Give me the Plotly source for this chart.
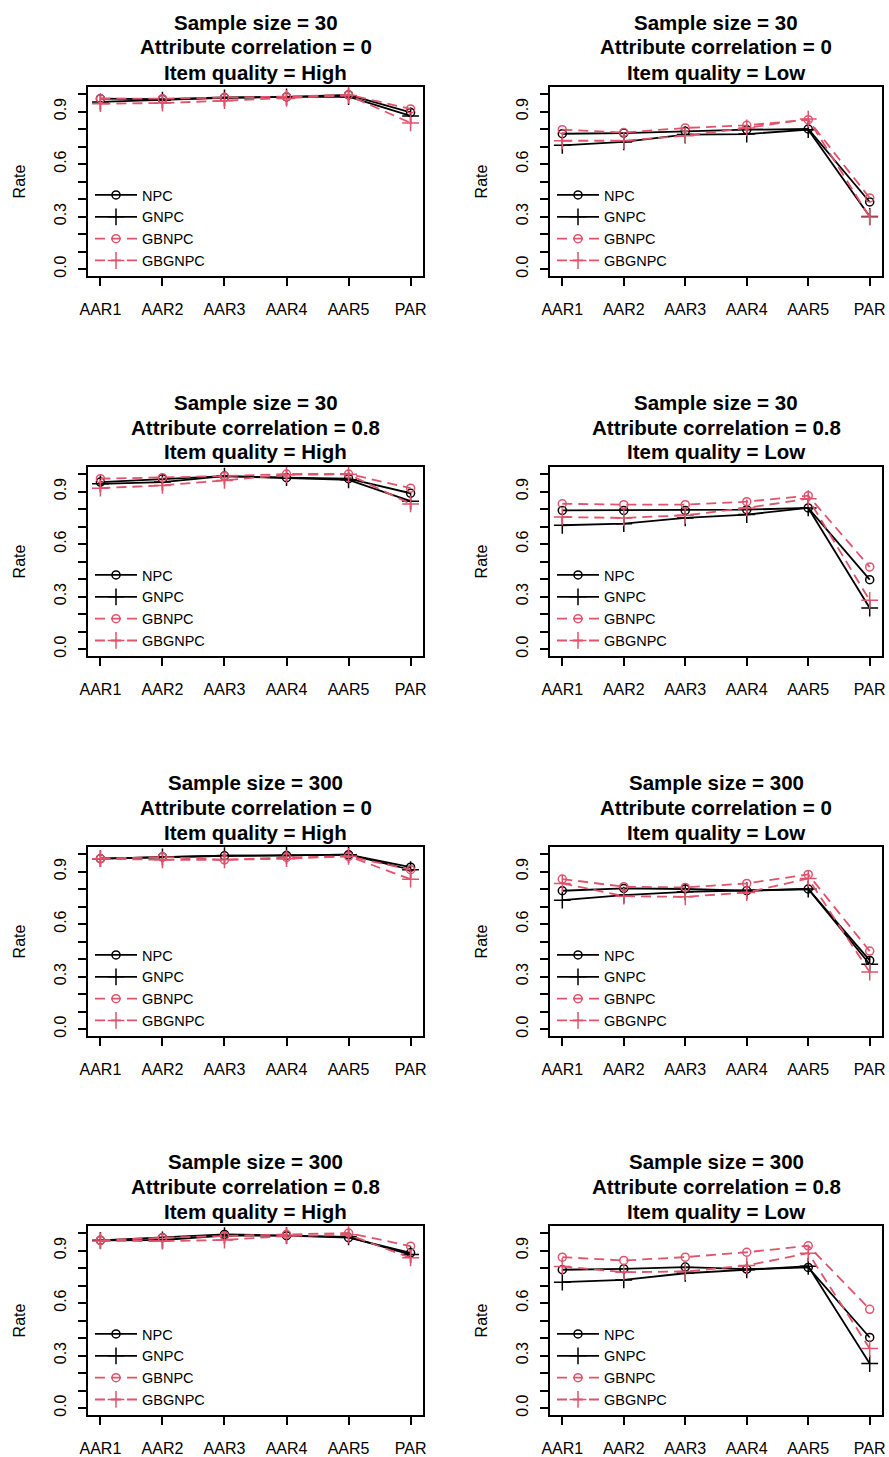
import plotly.graph_objects as go

W, H = 889, 1457

categories = ["AAR1", "AAR2", "AAR3", "AAR4", "AAR5", "PAR"]
methods = ["NPC", "GNPC", "GBNPC", "GBGNPC"]

sample_sizes = [30, 30, 30, 30, 300, 300, 300, 300]
correlations = ["0", "0", "0.8", "0.8", "0", "0", "0.8", "0.8"]
qualities = ["High", "Low", "High", "Low", "High", "Low", "High", "Low"]

# values per panel (row-major), per method
p1_npc = [0.973, 0.970, 0.980, 0.983, 0.995, 0.895]
p1_gnpc = [0.955, 0.965, 0.978, 0.983, 0.985, 0.875]
p1_gbnpc = [0.973, 0.973, 0.980, 0.985, 0.996, 0.915]
p1_gbgnpc = [0.945, 0.948, 0.962, 0.975, 0.992, 0.835]

p2_npc = [0.773, 0.777, 0.787, 0.796, 0.800, 0.383]
p2_gnpc = [0.707, 0.726, 0.768, 0.771, 0.796, 0.300]
p2_gbnpc = [0.796, 0.780, 0.806, 0.821, 0.853, 0.406]
p2_gbgnpc = [0.733, 0.733, 0.762, 0.806, 0.857, 0.297]

p3_npc = [0.954, 0.973, 0.988, 0.979, 0.973, 0.890]
p3_gnpc = [0.944, 0.954, 0.988, 0.979, 0.967, 0.845]
p3_gbnpc = [0.973, 0.979, 0.988, 1.000, 1.000, 0.919]
p3_gbgnpc = [0.919, 0.935, 0.963, 0.996, 0.998, 0.829]

p4_npc = [0.792, 0.792, 0.792, 0.796, 0.806, 0.396]
p4_gnpc = [0.707, 0.716, 0.749, 0.768, 0.806, 0.234]
p4_gbnpc = [0.830, 0.825, 0.825, 0.842, 0.876, 0.469]
p4_gbgnpc = [0.754, 0.749, 0.764, 0.806, 0.859, 0.278]

p5_npc = [0.973, 0.983, 0.990, 0.992, 0.996, 0.925]
p5_gnpc = [0.973, 0.983, 0.990, 0.992, 0.996, 0.910]
p5_gbnpc = [0.973, 0.983, 0.967, 0.980, 0.987, 0.910]
p5_gbgnpc = [0.973, 0.967, 0.967, 0.973, 0.987, 0.856]

p6_npc = [0.790, 0.803, 0.800, 0.790, 0.800, 0.392]
p6_gnpc = [0.736, 0.765, 0.784, 0.790, 0.800, 0.370]
p6_gbnpc = [0.857, 0.813, 0.809, 0.832, 0.883, 0.445]
p6_gbgnpc = [0.832, 0.759, 0.755, 0.780, 0.860, 0.325]

p7_npc = [0.958, 0.973, 0.992, 0.985, 0.973, 0.887]
p7_gnpc = [0.958, 0.960, 0.985, 0.985, 0.978, 0.877]
p7_gbnpc = [0.958, 0.973, 0.983, 0.992, 1.000, 0.925]
p7_gbgnpc = [0.955, 0.954, 0.960, 0.983, 0.990, 0.858]

p8_npc = [0.790, 0.795, 0.805, 0.793, 0.803, 0.403]
p8_gnpc = [0.719, 0.732, 0.770, 0.790, 0.810, 0.254]
p8_gbnpc = [0.862, 0.843, 0.862, 0.890, 0.927, 0.564]
p8_gbgnpc = [0.809, 0.776, 0.780, 0.814, 0.885, 0.340]

panels = [
    [p1_npc, p1_gnpc, p1_gbnpc, p1_gbgnpc],
    [p2_npc, p2_gnpc, p2_gbnpc, p2_gbgnpc],
    [p3_npc, p3_gnpc, p3_gbnpc, p3_gbgnpc],
    [p4_npc, p4_gnpc, p4_gbnpc, p4_gbgnpc],
    [p5_npc, p5_gnpc, p5_gbnpc, p5_gbgnpc],
    [p6_npc, p6_gnpc, p6_gbnpc, p6_gbgnpc],
    [p7_npc, p7_gnpc, p7_gbnpc, p7_gbgnpc],
    [p8_npc, p8_gnpc, p8_gbnpc, p8_gbgnpc],
]

y_tick_vals = [i / 10 for i in range(11)]
y_tick_text = ["0.0", "", "", "0.3", "", "", "0.6", "", "", "0.9", ""]

BLACK = "#000000"
RED = "#DF536B"
FONT = "Liberation Sans, Arial, sans-serif"

styles = [
    dict(color=BLACK, dash="solid", symbol="circle-open", size=8),
    dict(color=BLACK, dash="solid", symbol="cross-thin", size=12),
    dict(color=RED, dash="10px,6px", symbol="circle-open", size=8),
    dict(color=RED, dash="10px,6px", symbol="cross-thin", size=12),
]

col_left = [88, 550]
col_right = [423, 882]
row_top = [87, 467, 847, 1226]
box_h = 189

fig = go.Figure()
layout = dict(
    width=W, height=H,
    margin=dict(l=0, r=0, t=0, b=0, autoexpand=False),
    paper_bgcolor="white", plot_bgcolor="white",
    font=dict(family=FONT, size=16, color="black"),
    showlegend=True,
)
annotations = []
x_pos = list(range(1, len(categories) + 1))

for p in range(8):
    r, c = divmod(p, 2)
    k = p + 1
    xa = "x" if k == 1 else f"x{k}"
    ya = "y" if k == 1 else f"y{k}"
    lg = "legend" if k == 1 else f"legend{k}"
    for m, vals in enumerate(panels[p]):
        st = styles[m]
        fig.add_trace(go.Scatter(
            x=x_pos, y=vals, mode="lines+markers", name=methods[m],
            xaxis=xa, yaxis=ya, legend=lg,
            line=dict(color=st["color"], width=1.8, dash=st["dash"]),
            marker=dict(symbol=st["symbol"], size=st["size"], color=st["color"],
                        line=dict(color=st["color"], width=1.5)),
        ))
    x0 = col_left[c] / W
    x1 = col_right[c] / W
    ytop = row_top[r]
    y1 = 1 - ytop / H
    y0 = 1 - (ytop + box_h) / H
    axcommon = dict(showline=True, linecolor="black", linewidth=1.6, mirror=True,
                    ticks="outside", ticklen=8, tickwidth=1.6, tickcolor="black",
                    showgrid=False, zeroline=False, fixedrange=True, automargin=False,
                    tickfont=dict(family=FONT, size=16, color="black"))
    layout["xaxis" if k == 1 else f"xaxis{k}"] = dict(
        domain=[x0, x1], anchor=ya, range=[0.8, 6.2],
        tickmode="array", tickvals=x_pos, ticktext=categories,
        ticklabelstandoff=10, **axcommon)
    layout["yaxis" if k == 1 else f"yaxis{k}"] = dict(
        domain=[y0, y1], anchor=xa, range=[-0.04, 1.04],
        tickmode="array", tickvals=y_tick_vals, ticktext=y_tick_text,
        tickangle=-90, ticklabelstandoff=6,
        title=dict(text="Rate", standoff=22, font=dict(family=FONT, size=16)),
        **axcommon)
    layout[lg] = dict(
        x=(col_left[c] + 2) / W, y=1 - (ytop + 92) / H,
        xanchor="left", yanchor="top",
        bgcolor="rgba(0,0,0,0)", borderwidth=0,
        font=dict(family=FONT, size=14.5, color="black"),
        tracegroupgap=0, itemwidth=42, itemclick=False, itemdoubleclick=False,
    )
    cx = (col_left[c] + col_right[c]) / 2 / W
    lines = [f"Sample size = {sample_sizes[p]}",
             f"Attribute correlation = {correlations[p]}",
             f"Item quality = {qualities[p]}"]
    for i, t in enumerate(lines):
        annotations.append(dict(
            text=f"<b>{t}</b>", x=cx, y=1 - (ytop - 65 + 25 * i) / H,
            xref="paper", yref="paper", xanchor="center", yanchor="middle",
            showarrow=False, font=dict(family=FONT, size=20.5, color="black")))

layout["annotations"] = annotations
fig.update_layout(**layout)
fig.write_html("out.html",
               config={"displayModeBar": False},
               post_script="document.body.style.margin='0';document.body.style.overflow='hidden';")
